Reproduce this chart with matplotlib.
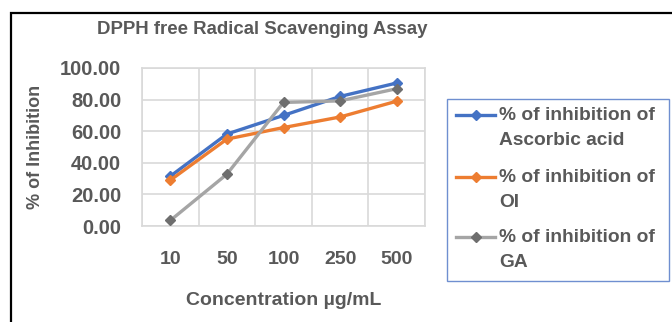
import numpy as np
import matplotlib
matplotlib.use('Agg')
import matplotlib.pyplot as plt
from matplotlib.lines import Line2D
from matplotlib.patches import Rectangle

# Data
concentrations = ['10', '50', '100', '250', '500']
ascorbic = [31.5, 58.2, 70.0, 82.0, 90.5]
oi = [29.0, 55.0, 62.3, 69.0, 79.0]
ga = [3.5, 32.8, 78.2, 79.2, 86.9]
series_labels = ['% of inhibition of\nAscorbic acid',
                 '% of inhibition of\nOI',
                 '% of inhibition of\nGA']
y_ticks = [0, 20, 40, 60, 80, 100]

plt.rcParams['font.family'] = ['Liberation Sans', 'DejaVu Sans']
plt.rcParams['font.weight'] = 'bold'
plt.rcParams['axes.labelweight'] = 'bold'
text_col = '#595959'
grid_col = '#D9D9D9'
colors = ['#4472C4', '#ED7D31', '#A5A5A5']
marker_cols = ['#4472C4', '#ED7D31', '#6E6E6E']

W, H = 672, 322
fig = plt.figure(figsize=(W / 100, H / 100), dpi=100)
ax = fig.add_axes([142 / W, 1 - 226 / H, 283 / W, 158 / H])

x = np.arange(len(concentrations))
for vals, c, mc in zip([ascorbic, oi, ga], colors, marker_cols):
    ax.plot(x, vals, color=c, lw=2.4, marker='D', ms=5.5,
            markerfacecolor=mc, markeredgecolor=mc, zorder=3)

ax.set_xlim(-0.5, len(concentrations) - 0.5)
ax.set_ylim(0, 100)
ax.set_xticks(x)
ax.set_xticklabels(concentrations, fontweight='bold')
ax.set_xticks(np.arange(-0.5, len(concentrations)), minor=True)
ax.set_yticks(y_ticks)
ax.set_yticklabels(['%.2f' % v for v in y_ticks], fontweight='bold')
ax.grid(True, which='minor', axis='x', color=grid_col, lw=1.2)
ax.grid(True, which='major', axis='y', color=grid_col, lw=1.2)
ax.tick_params(which='both', length=0)
ax.tick_params(axis='y', pad=15, labelsize=14.5, labelcolor=text_col)
ax.tick_params(axis='x', pad=18, labelsize=14, labelcolor=text_col)
for s in ax.spines.values():
    s.set_color(grid_col)
    s.set_linewidth(1.2)
ax.set_axisbelow(True)

ax.set_xlabel('Concentration µg/mL', fontsize=14, color=text_col, fontweight='bold')
ax.xaxis.set_label_coords(0.5, -0.415)
ax.set_ylabel('% of Inhibition', fontsize=13, color=text_col, fontweight='bold')
ax.yaxis.set_label_coords(-0.346, 0.5)

fig.text(262 / W, 1 - 30 / H, 'DPPH free Radical Scavenging Assay',
         ha='center', va='center', fontsize=13.4, color=text_col, fontweight='bold')

# outer chart border
fig.patches.append(Rectangle((10.5 / W, -0.1), 1.0, 1 - 12.5 / H + 0.1,
                             transform=fig.transFigure, fill=False,
                             edgecolor='black', lw=1.6))

# legend box
fig.patches.append(Rectangle((447 / W, 1 - 281 / H), 222 / W, 182 / H,
                             transform=fig.transFigure, fill=False,
                             edgecolor='#6F8FD0', lw=1.0))
entry_y = [115, 177, 237]
for lab, c, mc, yy in zip(series_labels, colors, marker_cols, entry_y):
    yf = 1 - yy / H
    fig.lines.append(Line2D([456 / W, 495 / W], [yf, yf], transform=fig.transFigure,
                            color=c, lw=2.4))
    fig.lines.append(Line2D([475.5 / W], [yf], transform=fig.transFigure,
                            marker='D', ms=5, color=mc, lw=0))
    fig.text(499 / W, yf + 8 / H, lab, ha='left', va='top', fontsize=13.8,
             color=text_col, linespacing=1.62, fontweight='bold')

fig.savefig('out.png', dpi=100)
